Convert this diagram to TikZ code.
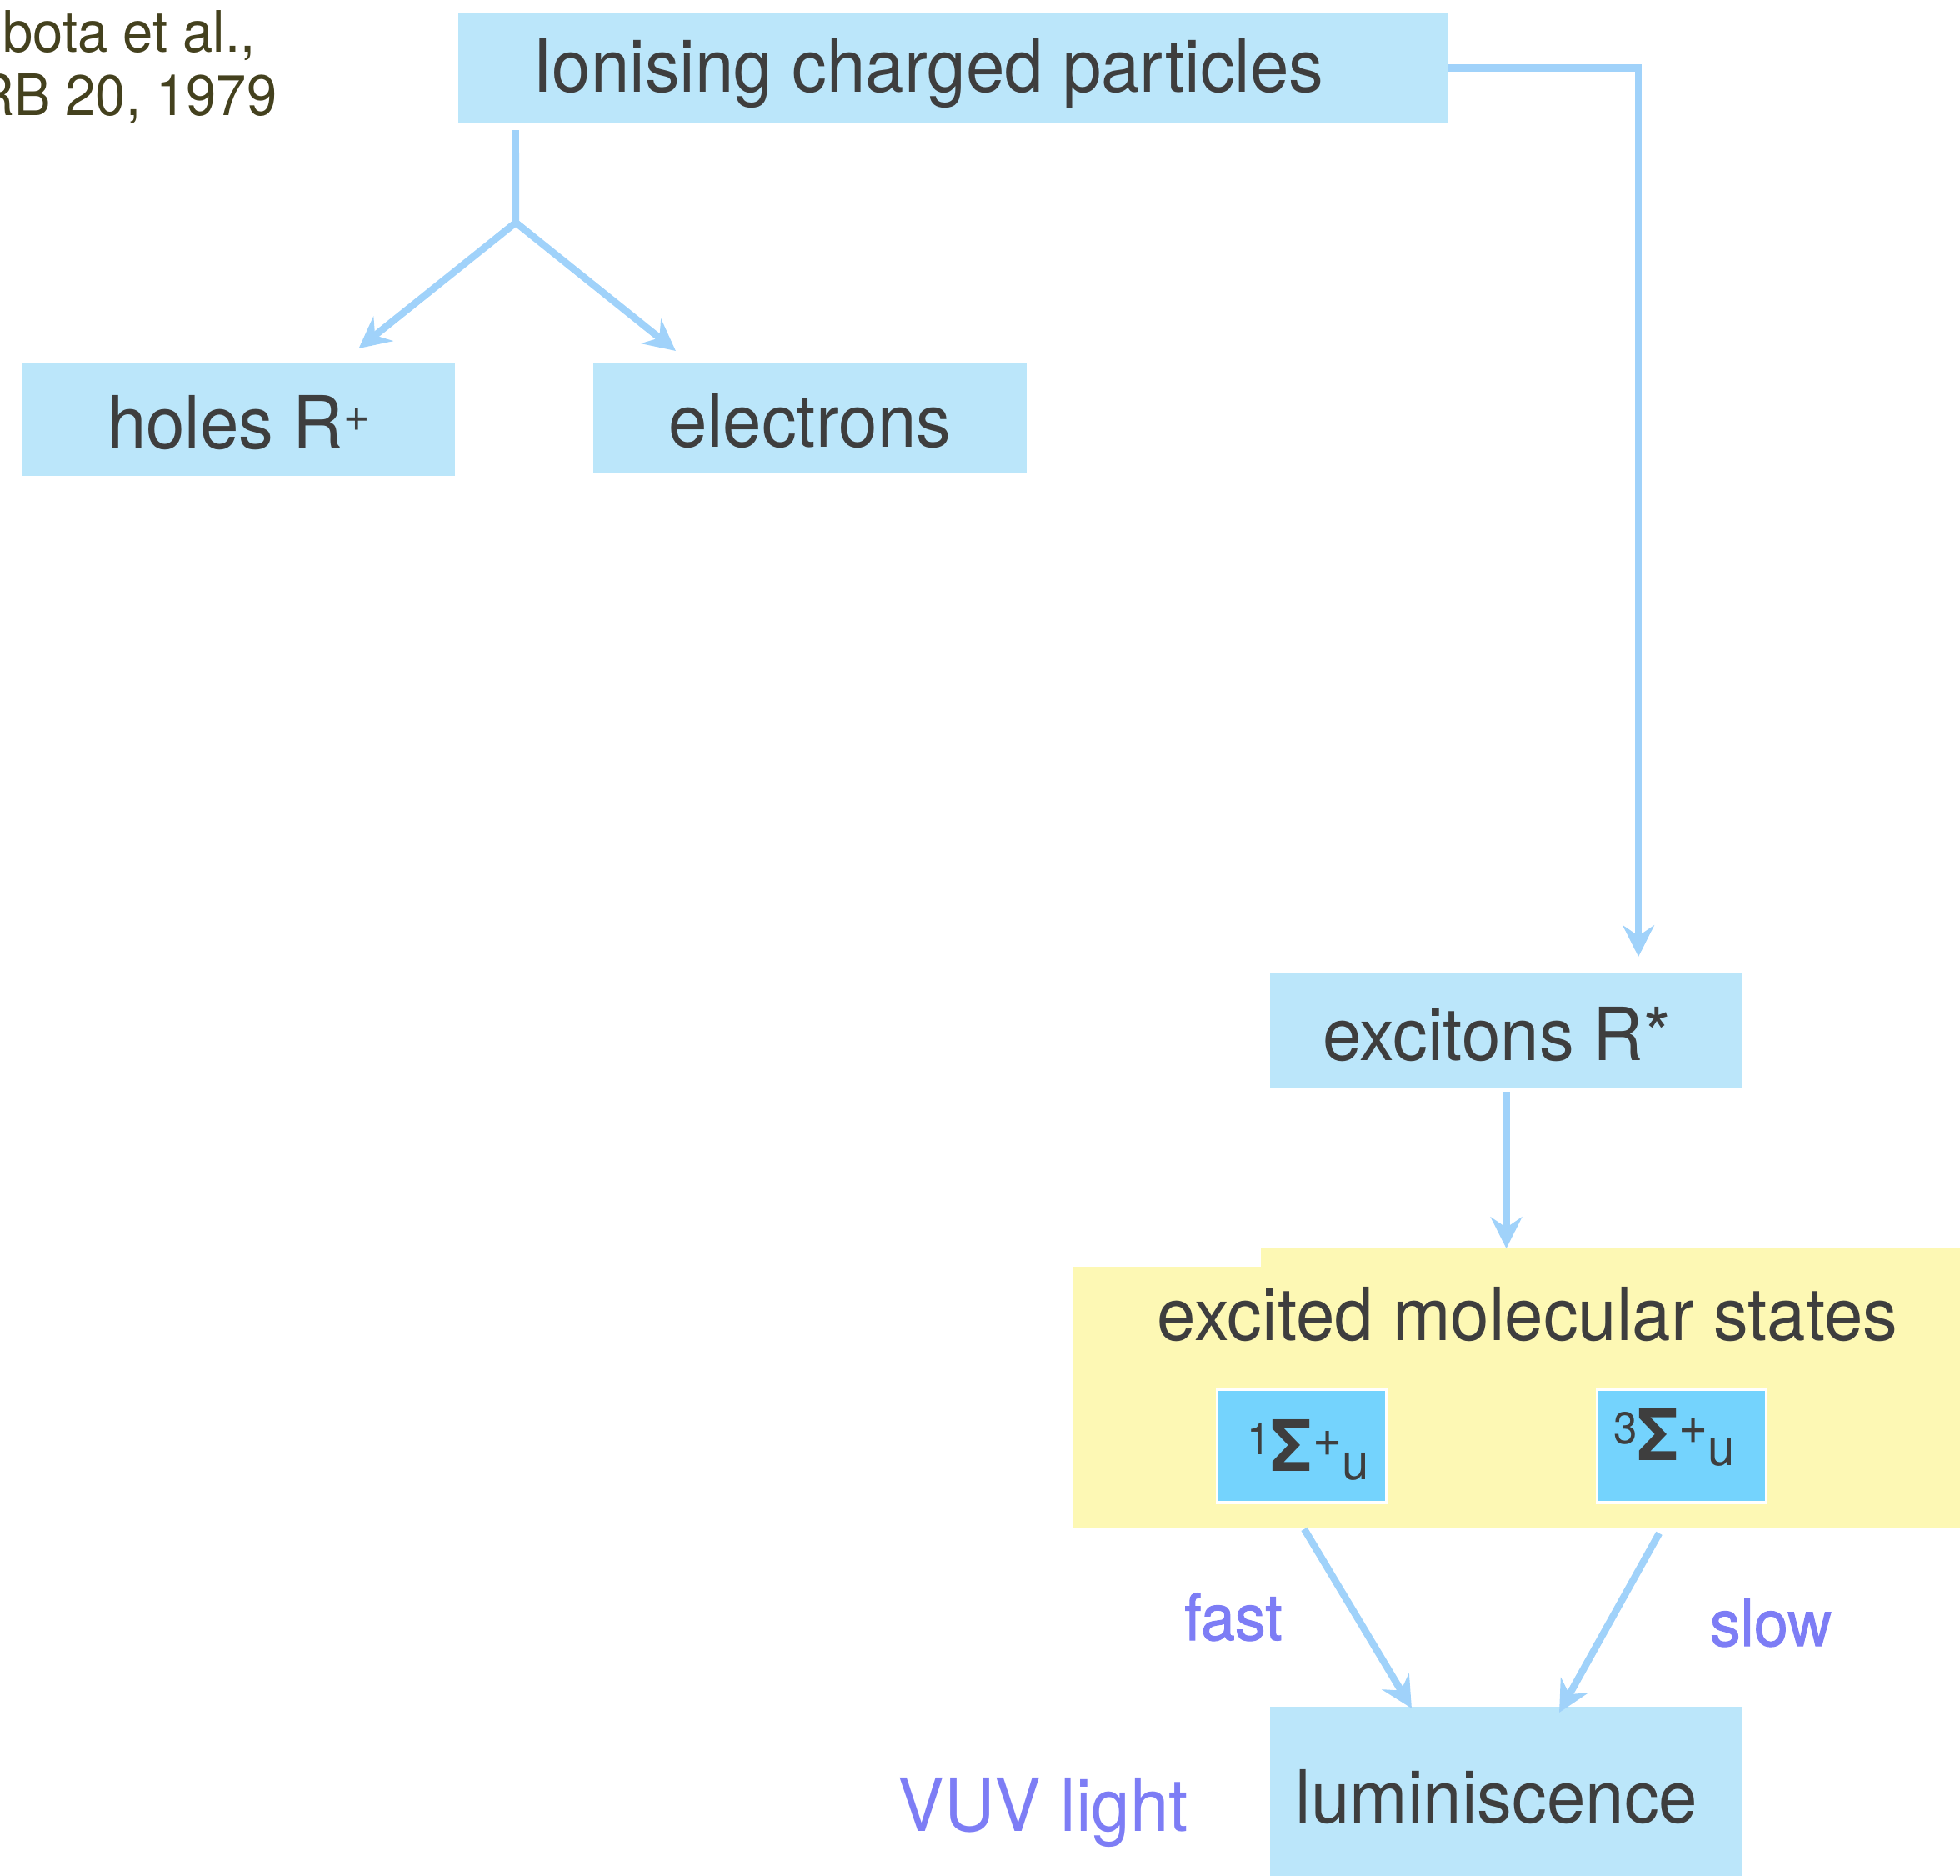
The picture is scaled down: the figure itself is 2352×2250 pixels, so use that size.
\documentclass[tikz,border=0pt]{standalone}
\usepackage{fontspec}
\setmainfont[FakeStretch=0.95]{TeX Gyre Heros}
\newfontfamily\lblfont[FakeStretch=0.95,FakeBold=1.2]{TeX Gyre Heros}
\usetikzlibrary{arrows.meta}
\definecolor{boxblue}{RGB}{187,230,250}
\definecolor{arrblue}{RGB}{160,210,250}
\definecolor{sigblue}{RGB}{116,211,253}
\definecolor{yel}{RGB}{253,248,180}
\definecolor{txtgray}{RGB}{62,62,62}
\definecolor{violet}{RGB}{125,125,245}
\definecolor{olive}{RGB}{68,65,30}
\newcommand\mydigit[1]{\resizebox{!}{0.38cm}{#1}}
\newcommand\myplus{\resizebox{!}{0.30cm}{+}}
\newcommand\myu{\resizebox{!}{0.32cm}{u}}
\newcommand\mysigma{\resizebox{0.50cm}{0.62cm}{\bfseries Σ}}
\begin{document}
\begin{tikzpicture}[x=0.01cm,y=-0.01cm,
  box/.style={fill=boxblue, text=txtgray, inner sep=0pt, outer sep=0pt,
    font=\fontsize{25}{30}\selectfont, text depth=0pt},
  sig/.style={fill=sigblue, draw=white, line width=1pt, inner sep=0pt,
    minimum width=2.03cm, minimum height=1.36cm, text=txtgray, text depth=0pt,
    font=\fontsize{25}{26}\selectfont},
  yelbox/.style={fill=yel, inner sep=0pt, outer sep=0pt},
  conn/.style={draw=arrblue, line width=2.4pt},
  arr/.style={conn, -{Stealth[length=10.7pt,width=10.7pt,inset=3.6pt]}},
  lbl/.style={text=violet, inner sep=0pt, font=\lblfont\fontsize{22}{26}\selectfont},
  vuv/.style={text=violet, inner sep=0pt, font=\fontsize{25}{30}\selectfont},
  cite/.style={text=olive, inner sep=0pt, font=\fontsize{19.5}{24}\selectfont}]
\useasboundingbox (0,0) rectangle (2352,2250);

% citation
\node[cite, anchor=base east] (cite1) at (307,62) {bota et al.,};
\node[cite, anchor=base east] (cite2) at (333,138) {RB 20, 1979};

% yellow region
\node[yelbox, minimum width=10.83cm, minimum height=3.13cm] (ems) at (1828.5,1676.5) {};
\node[yelbox, minimum width=8.57cm, minimum height=0.32cm] (emstop) at (1941.5,1514) {};
\node[text=txtgray, inner sep=0pt, anchor=base, font=\fontsize{25}{30}\selectfont] (emstext) at (1833,1608) {excited molecular states};

% boxes
\node[box, minimum width=11.87cm, minimum height=1.33cm, text height=16.2pt] (ion) at (1143.5,81.5) {\hspace*{-0.59cm}Ionising charged particles};
\node[box, minimum width=5.19cm, minimum height=1.36cm, text height=20pt] (holes) at (286.5,503) {holes R\raisebox{0.21cm}{\resizebox{!}{0.27cm}{+}}};
\node[box, minimum width=5.20cm, minimum height=1.33cm, text height=20pt] (elec) at (972,501.5) {electrons};
\node[box, minimum width=5.67cm, minimum height=1.38cm, text height=21pt] (exc) at (1807.5,1236) {\hspace*{-0.23cm}excitons R*};
\node[box, minimum width=5.67cm, minimum height=2.24cm, text height=15.4pt] (lum) at (1807.5,2160) {\hspace*{-0.23cm}luminiscence};

% sigma states
\node[sig, text height=17.1pt] (s1) at (1562,1735) {\hspace*{0.15cm}\raisebox{0.20cm}{\mydigit{1}}\mysigma\raisebox{0.18cm}{\myplus}\raisebox{-0.10cm}{\myu}};
\node[sig, text height=9.7pt] (s3) at (2018,1735) {\hspace*{-0.18cm}\raisebox{0.20cm}{\mydigit{3}}\mysigma\raisebox{0.20cm}{\myplus}\raisebox{-0.06cm}{\myu}};

% labels
\node[lbl, anchor=base] (fast) at (1480,1968) {fast};
\node[lbl, anchor=base] (slow) at (2125,1975) {slow};
\node[vuv, anchor=base] (vuvl) at (1252,2197) {VUV light};

% connectors
\coordinate (split) at (619,267);
\draw[conn] ([xshift=0.69cm,yshift=-0.08cm]ion.south west) -- (split);
\draw[arr] (split) -- ([xshift=1.44cm,yshift=0.17cm]holes.north);
\draw[arr] (split) -- ([xshift=-1.61cm,yshift=0.14cm]elec.north);

\coordinate (rtip) at ([xshift=1.585cm,yshift=0.19cm]exc.north);
\draw[arr] (ion.east) -| (rtip);

\draw[arr] ([yshift=-0.05cm]exc.south) -- (exc.south |- emstop.north);

\draw[arr] ([xshift=0.03cm,yshift=-0.30cm]s1.south) -- ([xshift=-1.135cm,yshift=-0.02cm]lum.north);
\draw[arr] ([xshift=-0.27cm,yshift=-0.35cm]s3.south) -- ([xshift=0.635cm,yshift=-0.07cm]lum.north);
\end{tikzpicture}
\end{document}
